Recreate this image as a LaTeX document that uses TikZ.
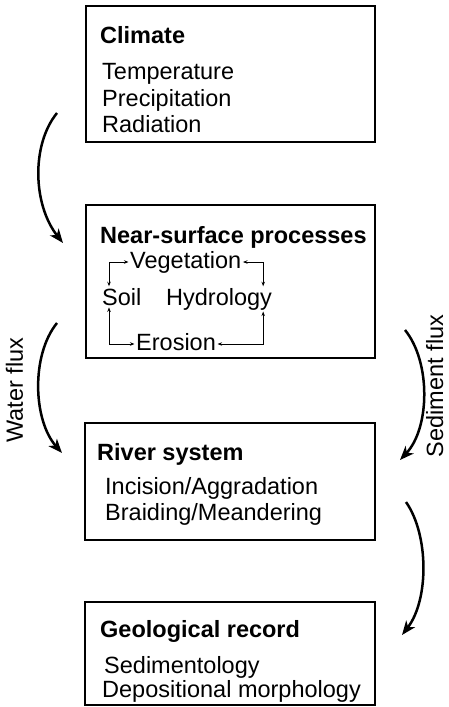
\documentclass[tikz,border=0pt]{standalone}
\usepackage{fontspec}
\setmainfont{Liberation Sans}
\usetikzlibrary{arrows.meta}

\begin{document}
\begin{tikzpicture}[x=1pt, y=-1pt,
		font=\fontsize{23.5}{28}\selectfont,
		box/.style={draw, line width=2.5pt, inner sep=0pt},
		head/.style={anchor=base west, inner sep=0pt, font=\fontsize{23.5}{28}\selectfont\bfseries},
		item/.style={anchor=base west, inner sep=0pt},
		link/.style={line width=1pt, {Stealth[length=4.5pt,width=3.5pt]}-{Stealth[length=4.5pt,width=3.5pt]}},
		flux/.style={line width=2.5pt, -{Stealth[length=14pt,width=11pt,inset=4pt]}}]
	\useasboundingbox (0,0) rectangle (448,707);
	% boxes
	\node[box, minimum width=289pt, minimum height=136pt] (climate) at (230.5,74) {};
	\node[box, minimum width=289pt, minimum height=153pt] (nsp) at (230.5,281.5) {};
	\node[box, minimum width=290pt, minimum height=117pt] (river) at (230,481.5) {};
	\node[box, minimum width=290pt, minimum height=103pt] (geo) at (230,653.5) {};
	% climate
	\node[head] (climate_t) at (100,43) {Climate};
	\node[item] (temp) at (102,79) {Temperature};
	\node[item] (prec) at (102,106) {Precipitation};
	\node[item] (rad) at (102,132) {Radiation};
	% near-surface processes
	\node[head] (nsp_t) at (100,243) {Near-surface processes};
	\node[item] (veg) at (130,268) {Vegetation};
	\node[item] (soil) at (102,305) {Soil};
	\node[item] (hyd) at (166,305) {Hydrology};
	\node[item] (ero) at (136,350) {Erosion};
	\draw[link] ([xshift=-1.5pt,yshift=6pt]veg.base west) -| ([xshift=7pt,yshift=1.5pt]soil.north west);
	\draw[link] ([xshift=1.5pt,yshift=6pt]veg.base east) -| ([xshift=-9pt,yshift=1.5pt]hyd.north east);
	\draw[link] ([xshift=7pt,yshift=-2pt]soil.south west) |- ([xshift=-1.5pt,yshift=6pt]ero.base west);
	\draw[link] ([xshift=-9pt,yshift=-1.5pt]hyd.south east) |- ([xshift=1.5pt,yshift=6pt]ero.base east);
	% river system
	\node[head] (river_t) at (97,460) {River system};
	\node[item] (inc) at (105,494) {Incision/Aggradation};
	\node[item] (braid) at (105,520) {Braiding/Meandering};
	% geological record
	\node[head] (geo_t) at (100,637) {Geological record};
	\node[item] (sed) at (104,673) {Sedimentology};
	\node[item] (dep) at (102,697) {Depositional morphology};
	% flux arrows
	\coordinate (a1) at (57,113);
	\coordinate (b1) at (63,243);
	\coordinate (a2) at (57,323);
	\coordinate (b2) at (62,453);
	\coordinate (a3) at (405,330);
	\coordinate (b3) at (400,460);
	\coordinate (a4) at (406,502);
	\coordinate (b4) at (402,635);
	\draw[flux] (a1) .. controls (31,145) and (33,205) .. (b1);
	\draw[flux] (a2) .. controls (31,355) and (33,420) .. (b2);
	\draw[flux] (a3) .. controls (431,362) and (430,428) .. (b3);
	\draw[flux] (a4) .. controls (429,535) and (429,600) .. (b4);
	\node[rotate=90, anchor=base, inner sep=0pt] (water) at (23,390) {Water flux};
	\node[rotate=90, anchor=base, inner sep=0pt] (sediment) at (443,386) {Sediment flux};
\end{tikzpicture}
\end{document}
